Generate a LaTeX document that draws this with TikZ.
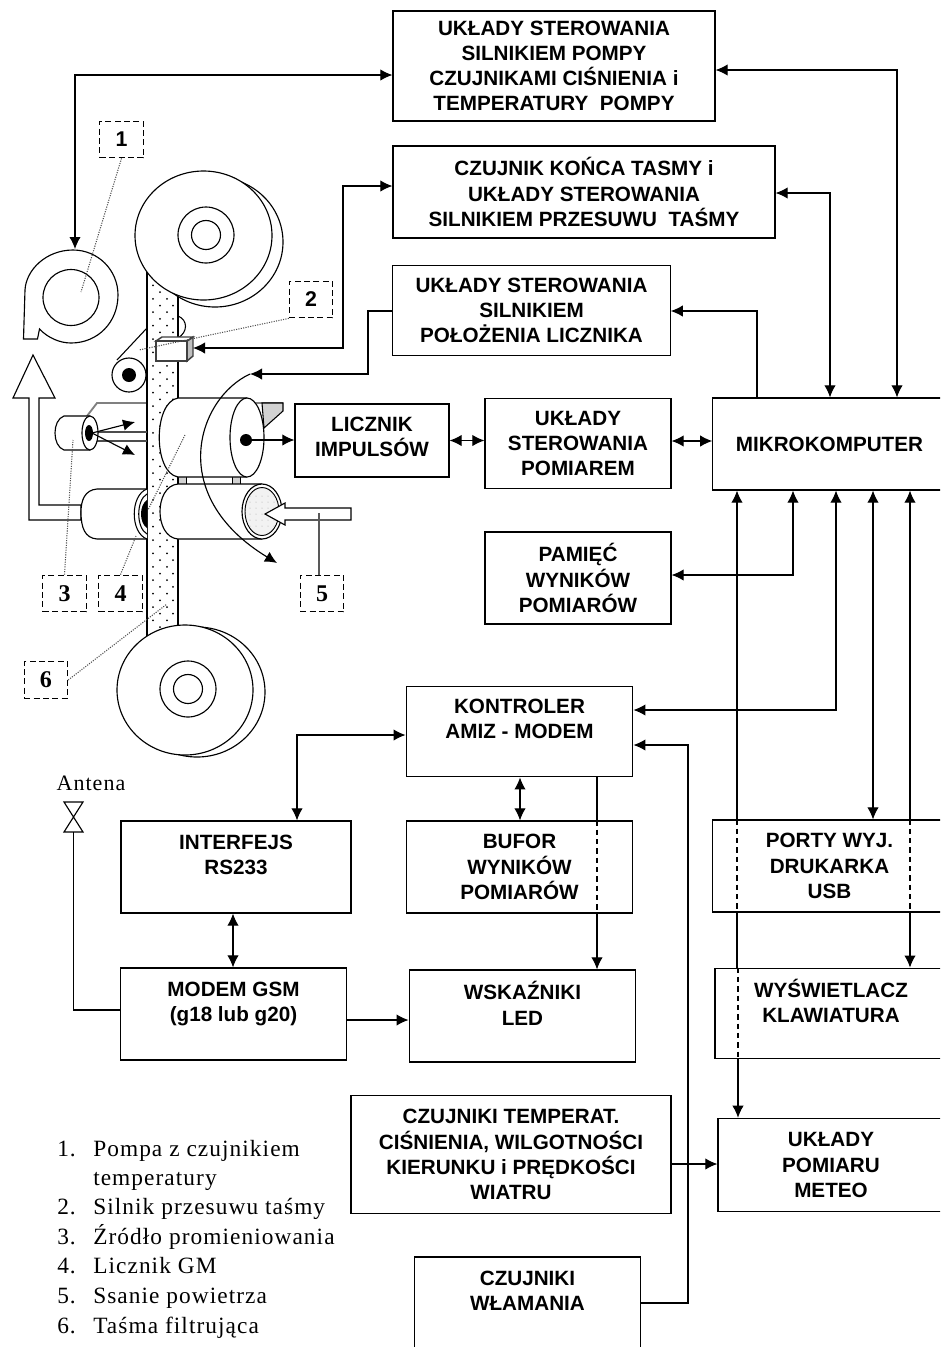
\documentclass[tikz,border=0pt]{standalone}
\usepackage{fontspec}
\setmainfont{Liberation Serif}
\setsansfont{Liberation Sans}
\newfontfamily\legendfont[LetterSpace=4.6]{Liberation Serif}
\usetikzlibrary{arrows.meta}
\tikzset{
  blok/.style={draw, line width=0.9pt, fill=white, inner sep=0pt, align=center,
    font=\sffamily\bfseries\fontsize{15.5}{18.9}\selectfont},
  numer/.style={draw, dash pattern=on 4.5pt off 2.5pt, line width=0.8pt, fill=white, inner sep=0pt,
    minimum width=32.5pt, minimum height=27.5pt, font=\rmfamily\bfseries\fontsize{18}{18}\selectfont},
  numerS/.style={numer, font=\sffamily\bfseries\fontsize{16}{16}\selectfont},
  opis/.style={anchor=base west, inner sep=0pt, font=\legendfont\fontsize{17.5}{18}\selectfont},
  laczenie/.style={line width=0.85pt, >={Latex[length=9pt,width=8.5pt]}},
  wskaz/.style={line width=0.8pt, densely dotted, gray!60!black},
  mech/.style={line width=0.85pt, fill=white},
  przerywana/.style={dash pattern=on 4pt off 3pt},
}
\begin{document}
\begin{tikzpicture}[x=0.75pt, y=-0.75pt]
        \useasboundingbox (0,0) rectangle (940,1347);
        \clip (0,0) rectangle (940,1347);

        % Plate behind the tape
        \draw[line width=1.4pt, gray] (87,416) -- (97,403) -- (283,403);
        \draw[line width=0.8pt, fill=gray!35] (262,403) -- (283,403) -- (283,411) -- (264,428) -- cycle;

        % Filter tape
        \draw[mech] (147,270) rectangle (178,640);
        \foreach \row in {0,2,...,54} {
            \fill (153,{272+\row*6.7}) circle (1);
            \fill (167,{272+\row*6.7}) circle (1);
            \fill (160,{278.7+\row*6.7}) circle (1);
            \fill (173,{278.7+\row*6.7}) circle (1);
        }

        % Reels
        \draw[mech] (215,242) ellipse (68 and 65);
        \draw[mech] (203.5,235.5) ellipse (68.5 and 64.5);
        \draw[mech] (206,235) circle (28);
        \draw[mech] (206,235) circle (14.5);
        \draw[mech] (197,692) ellipse (68 and 65);
        \draw[mech] (185,690) ellipse (68 and 65);
        \draw[mech] (188,689) circle (28);
        \draw[mech] (188,689) circle (14.5);

        % Pump
        \draw[mech] (23.5,339) -- (37.5,339) -- (39.5,329) .. controls (48,338) and (60,343) .. (71,343)
            .. controls (98,343) and (118,322) .. (118,295) .. controls (118,270) and (98,250) .. (73,250)
            .. controls (46,250) and (26,270) .. (25,290) -- cycle;
        \draw[mech] (71,297.5) circle (28);

        % Guide roller and tape sensor
        \draw[line width=0.8pt] (117,360) -- (147,328);
        \draw[mech] (129,375) circle (17);
        \fill (129,375) circle (7);
        \draw[line width=0.8pt] (178,316) .. controls (188,320) and (188,332) .. (178,338);
        \draw[line width=1.1pt, gray!50!black, fill=gray!50] (187,341) -- (193,337) -- (193,356) -- (187,361) -- cycle;
        \draw[line width=1.1pt, gray!50!black, fill=white] (156,341) -- (162,337) -- (193,337) -- (187,341) -- cycle;
        \draw[line width=1.1pt, gray!50!black, fill=white] (156,341) rectangle (187,361);

        % Radiation source
        \draw[line width=1.2pt, gray!60!black] (90,432) -- (147,432);
        \draw[line width=1.2pt, gray!60!black] (90,441) -- (147,441);
        \draw[mech] (90,416) -- (64,416) .. controls (52,420) and (52,446) .. (64,450) -- (90,450);
        \draw[mech] (90,433) ellipse (8 and 17);
        \fill (89,433) ellipse (4 and 8);

        % Exhaust outline
        \draw[mech] (33,355) -- (55,398) -- (39,398) -- (39,505) -- (81,505) -- (81,520) -- (29,520) -- (29,398) -- (13,398) -- cycle;

        % GM counter
        \draw[mech] (147,489) -- (97,489) .. controls (85,490) and (81,500) .. (81,512) .. controls (81,528) and (85,538) .. (97,539) -- (147,539);
        \draw[line width=0.8pt] (147,489) .. controls (130,495) and (130,533) .. (147,539);
        \draw[line width=0.8pt] (147,494) .. controls (136,500) and (136,528) .. (147,534);
        \fill (147,500) .. controls (139,505) and (139,523) .. (147,528) -- cycle;

        % Spacers, lower and upper cylinders
        \draw[line width=0.7pt, fill=gray!35] (178,475) rectangle (186,486);
        \draw[line width=0.7pt, fill=gray!35] (232,475) rectangle (240,486);
        \draw[mech] (262,484) -- (178,484) .. controls (154,486) and (154,537) .. (178,539) -- (262,539);
        \draw[mech] (262,511.5) ellipse (20 and 27.5);
        \draw[line width=0.7pt, fill=gray!10] (262,511.5) ellipse (17 and 24);
        \foreach \col in {250,256,...,274} {
            \foreach \row in {496,502,...,526} {
                \fill[gray!70] (\col,\row) circle (0.5);
            }
        }
        \draw[mech] (247,398) -- (178,398) .. controls (153,402) and (153,473) .. (178,477) -- (247,477);
        \draw[mech] (247,437.5) ellipse (17 and 39.5);
        \fill (246,440) circle (6);

        % Suction arrow
        \draw[mech] (265,514) -- (285,503) -- (285,508) -- (351,508) -- (351,520) -- (285,520) -- (285,525) -- cycle;

        % Blocks
        \node[blok, minimum width=241.5pt, minimum height=82.5pt] (sterPompa) at (554,66) {UKŁADY STEROWANIA\\SILNIKIEM POMPY\\CZUJNIKAMI CIŚNIENIA i\\TEMPERATURY~ POMPY};
        \node[blok, minimum width=286.5pt, minimum height=69pt] (sterTasma) at (584,192) {CZUJNIK KOŃCA TASMY i\\UKŁADY STEROWANIA\\SILNIKIEM PRZESUWU~ TAŚMY};
        \node[blok, minimum width=208pt, minimum height=68pt] (sterLicznik) at (531.5,310.5) {UKŁADY STEROWANIA\\SILNIKIEM\\POŁOŻENIA LICZNIKA};
        \node[blok, minimum width=115.5pt, minimum height=54.75pt] (licznik) at (372,440.5) {LICZNIK\\IMPULSÓW\\[-12.9pt]~};
        \node[blok, minimum width=139.5pt, minimum height=68pt] (sterPomiar) at (578,443.5) {UKŁADY\\STEROWANIA\\POMIAREM};
        \node[blok, minimum width=175pt, minimum height=69pt] (mikro) at (829.5,444) {MIKROKOMPUTER};
        \node[blok, minimum width=139.5pt, minimum height=69pt] (pamiec) at (578,578) {PAMIĘĆ\\WYNIKÓW\\POMIARÓW};
        \node[blok, minimum width=170pt, minimum height=68pt] (kontroler) at (519.5,731.5) {KONTROLER\\AMIZ - MODEM\\~};
        \node[blok, minimum width=172.5pt, minimum height=69pt] (rs) at (236,867) {INTERFEJS\\RS233\\~};
        \node[blok, minimum width=170pt, minimum height=69pt] (bufor) at (519.5,867) {BUFOR\\WYNIKÓW\\POMIARÓW};
        \node[blok, minimum width=175pt, minimum height=69pt] (porty) at (829.5,866) {PORTY WYJ.\\DRUKARKA\\USB};
        \node[blok, minimum width=170pt, minimum height=69pt] (gsm) at (233.5,1014) {MODEM GSM\\(g18 lub g20)\\~};
        \node[blok, minimum width=170pt, minimum height=69pt] (led) at (522.5,1016) {WSKAŹNIKI\\LED\\~};
        \node[blok, minimum width=174pt, minimum height=68pt] (wysw) at (831,1013.5) {WYŚWIETLACZ\\KLAWIATURA\\~};
        \node[blok, minimum width=240pt, minimum height=89pt] (czujniki) at (511,1154.5) {CZUJNIKI TEMPERAT.\\CIŚNIENIA, WILGOTNOŚCI\\KIERUNKU i PRĘDKOŚCI\\WIATRU};
        \node[blok, minimum width=169.5pt, minimum height=70pt] (meteo) at (831,1165) {UKŁADY\\POMIARU\\METEO};
        \node[blok, minimum width=170pt, minimum height=69.75pt] (wlamanie) at (527.5,1303.5) {CZUJNIKI\\WŁAMANIA\\~};

        % Part numbers
        \node[numerS] (nr1) at (121.5,139.5) {1};
        \node[numerS] (nr2) at (311,299.5) {2};
        \node[numer] (nr3) at (64.5,593.5) {3};
        \node[numer] (nr4) at (120.5,593.5) {4};
        \node[numer] (nr5) at (322,593.5) {5};
        \node[numer] (nr6) at (46,680) {6};
        \coordinate (pPompa) at (81,292);
        \coordinate (pSilnik) at (139,350);
        \coordinate (pZrodlo) at (73,440);
        \coordinate (pLicznik) at (136,536);
        \coordinate (pSsanie) at (319,513);
        \coordinate (pTasma) at (167,604);
        \coordinate (pTasma2) at (185,435);
        \coordinate (pTasma3) at (148,510);
        \draw[wskaz] (nr1.south) -- (pPompa);
        \draw[wskaz] (nr2.south west) -- (pSilnik);
        \draw[wskaz] (nr3.north) -- (pZrodlo);
        \draw[wskaz] (nr4.north) -- (pLicznik);
        \draw[line width=0.8pt, gray!70!black] (nr5.north -| pSsanie) -- (pSsanie);
        \draw[wskaz] (nr6.east) -- (pTasma);
        \draw[wskaz] (pTasma2) -- (pTasma3);

        % Connectors
        \coordinate (pompaWe) at (75,249);
        \coordinate (rolka) at (193,348);
        \coordinate (grot) at (250,374);
        \coordinate (punkt) at (246,440);
        \coordinate (zrodlo) at (92,433);
        \coordinate (maszt) at (73.5,832);
        \begin{scope}[laczenie]
            \draw[<->] (pompaWe) |- (sterPompa.west |- 0,75);
            \draw[<->] (sterPompa.east |- 0,70) -| (mikro.north -| 897,0);
            \draw[<->] (sterTasma.east |- 0,193) -| (mikro.north -| 830,0);
            \draw[<->] (sterTasma.west |- 0,186) -- (343,186) |- (rolka);
            \draw[->] (sterLicznik.west |- 0,311) -- (368,311) |- (grot);
            \draw[->] (grot) .. controls (198,398) and (165,495) .. (277,563);
            \draw[->] (zrodlo) -- (135,422);
            \draw[->] (zrodlo) -- (135,455);
            \draw[->] (mikro.north -| 757,0) |- (sterLicznik.east |- 0,311);
            \draw[->] (punkt) -- (licznik.west |- punkt);
            \draw[<->] (licznik.east) -- (sterPomiar.west |- licznik.east);
            \draw[<->] (sterPomiar.east |- 0,441) -- (mikro.west |- 0,441);
            \draw[<->] (pamiec.east |- 0,575) -| (mikro.south -| 793,0);
            \draw[<->] (mikro.south -| 836,0) |- (kontroler.east |- 0,710);
            \draw[<->] (mikro.south -| 873,0) -- (porty.north -| 873,0);
            % line through both boxes
            \draw[<-] (mikro.south -| 737,0) -- (porty.north -| 737,0);
            \draw[przerywana] (porty.north -| 737,0) -- (porty.south -| 737,0);
            \draw (porty.south -| 737,0) -- (wysw.north -| 737,0);
            \draw[przerywana] (wysw.north -| 738,0) -- (wysw.south -| 738,0);
            \draw[->] (wysw.south -| 738,0) -- (meteo.north -| 738,0);
            % right line, to the display
            \draw[<-] (mikro.south -| 910,0) -- (porty.north -| 910,0);
            \draw[przerywana] (porty.north -| 910,0) -- (porty.south -| 910,0);
            \draw[->] (porty.south -| 910,0) -- (wysw.north -| 910,0);
            \draw[<->] (kontroler.west |- 0,735) -| (rs.north -| 297,0);
            \draw[<->] (kontroler.south -| 520,0) -- (bufor.north -| 520,0);
            \draw (kontroler.south -| 597,0) -- (bufor.north -| 597,0);
            \draw[przerywana] (bufor.north -| 597,0) -- (bufor.south -| 597,0);
            \draw[->] (bufor.south -| 597,0) -- (led.north -| 597,0);
            \draw[->] (wlamanie.east |- 0,1303) -| (688,745) -- (kontroler.east |- 0,745);
            \draw[<->] (rs.south -| 233,0) -- (gsm.north -| 233,0);
            \draw[->] (gsm.east |- 0,1020) -- (led.west |- 0,1020);
            \draw[->] (czujniki.east |- 0,1164) -- (meteo.west |- 0,1164);
            \draw (gsm.west |- 0,1010) -| (maszt);
            \draw (64,802) -- (83,802) -- (64,832) -- (83,832) -- cycle;
        \end{scope}
        \node[anchor=base, font=\legendfont\fontsize{16.5}{15}\selectfont, inner sep=0pt] (antena) at (91,790) {Antena};

        % Legend
        \node[opis] (l1) at (57,1156) {1.};
        \node[opis] (t1) at (93,1156) {Pompa z czujnikiem};
        \node[opis] (t1b) at (93,1185) {temperatury};
        \node[opis] (l2) at (57,1214) {2.};
        \node[opis] (t2) at (93,1214) {Silnik przesuwu taśmy};
        \node[opis] (l3) at (57,1244) {3.};
        \node[opis] (t3) at (93,1244) {Źródło promieniowania};
        \node[opis] (l4) at (57,1273) {4.};
        \node[opis] (t4) at (93,1273) {Licznik GM};
        \node[opis] (l5) at (57,1303) {5.};
        \node[opis] (t5) at (93,1303) {Ssanie powietrza};
        \node[opis] (l6) at (57,1333) {6.};
        \node[opis] (t6) at (93,1333) {Taśma filtrująca};
    \end{tikzpicture}
\end{document}
